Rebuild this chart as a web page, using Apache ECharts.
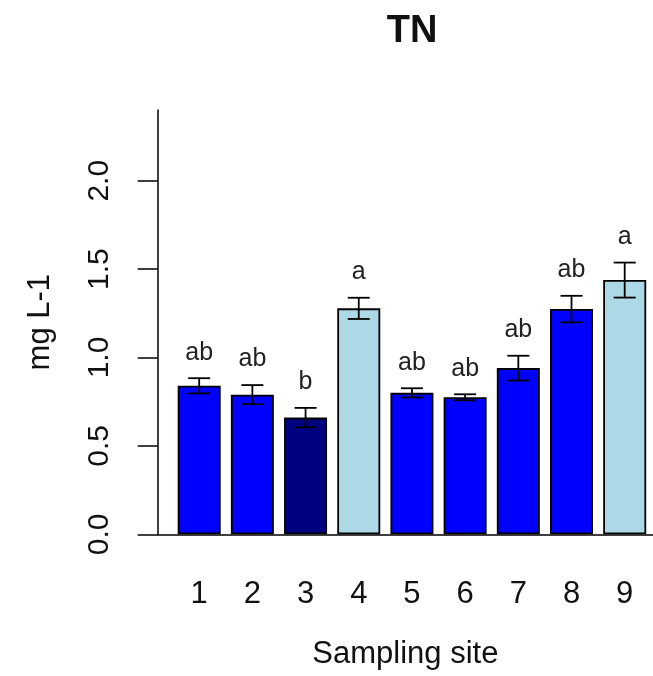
<!DOCTYPE html>
<html>
<head>
<meta charset="utf-8">
<script src="https://cdn.jsdelivr.net/npm/echarts@6/dist/echarts.min.js"></script>
<style>
html,body{margin:0;padding:0;background:#fff;}
#chart{width:653px;height:676px;}
</style>
</head>
<body>
<div id="chart"></div>
<script>
// ---- data ----
const sites = [1, 2, 3, 4, 5, 6, 7, 8, 9];
const meanTN = [0.84, 0.79, 0.66, 1.278, 0.80, 0.775, 0.94, 1.274, 1.438];
const seTN = [0.043, 0.054, 0.055, 0.06, 0.026, 0.017, 0.07, 0.075, 0.099];
const groupLetters = ['ab', 'ab', 'b', 'a', 'ab', 'ab', 'ab', 'ab', 'a'];
const yTicks = [0, 0.5, 1.0, 1.5, 2.0];

// ---- styles ----
const barColors = ['#0000FF', '#0000FF', '#000080', '#ADD8E6', '#0000FF', '#0000FF', '#0000FF', '#0000FF', '#ADD8E6'];
const FONT = '"Liberation Sans", Arial, Helvetica, sans-serif';
const INK = '#111';

const chart = echarts.init(document.getElementById('chart'), null, {renderer: 'canvas'});

const barData = sites.map((s, i) => ({
  value: [s, meanTN[i]],
  itemStyle: {color: barColors[i]}
}));
const errData = sites.map((s, i) => [s, meanTN[i] - seTN[i], meanTN[i] + seTN[i], i]);

chart.setOption({
  animation: false,
  backgroundColor: '#fff',
  title: {
    text: 'TN',
    left: 407, top: 8,
    textAlign: 'center',
    textStyle: {fontFamily: FONT, fontSize: 38, fontWeight: 'bold', color: INK}
  },
  grid: {left: 157.7, right: 0, top: 110, bottom: 141.7, containLabel: false},
  xAxis: {
    type: 'value',
    min: 0.22, max: 9.532,
    splitLine: {show: false},
    axisLine: {show: true, onZero: false, lineStyle: {color: '#000', width: 1.5}},
    axisTick: {show: false},
    axisLabel: {
      customValues: sites,
      fontFamily: FONT, fontSize: 31, color: INK, margin: 45,
      formatter: v => String(v)
    },
    name: 'Sampling site',
    nameLocation: 'middle',
    nameGap: 105,
    nameTextStyle: {fontFamily: FONT, fontSize: 31, color: INK}
  },
  yAxis: {
    type: 'value',
    min: 0, max: 2.4,
    splitLine: {show: false},
    axisLine: {show: true, lineStyle: {color: '#000', width: 1.5}},
    axisTick: {show: true, length: 20, customValues: yTicks, lineStyle: {color: '#000', width: 1.5}},
    axisLabel: {
      customValues: yTicks,
      rotate: 90,
      fontFamily: FONT, fontSize: 30, color: INK, margin: 43,
      formatter: v => v.toFixed(1)
    },
    name: 'mg L-1',
    nameLocation: 'middle',
    nameRotate: 90,
    nameGap: 102,
    nameTextStyle: {fontFamily: FONT, fontSize: 31, color: INK}
  },
  series: [
    {
      type: 'bar',
      data: barData,
      barWidth: 43,
      itemStyle: {borderColor: '#000', borderWidth: 1.8},
      z: 2
    },
    {
      type: 'custom',
      data: errData,
      z: 5,
      renderItem: function (params, api) {
        const x = api.value(0);
        const lo = api.coord([x, api.value(1)]);
        const hi = api.coord([x, api.value(2)]);
        const idx = api.value(3);
        const cap = 11;
        const ls = {stroke: '#000', lineWidth: 1.8};
        return {
          type: 'group',
          children: [
            {type: 'line', shape: {x1: lo[0], y1: lo[1], x2: hi[0], y2: hi[1]}, style: ls},
            {type: 'line', shape: {x1: hi[0] - cap, y1: hi[1], x2: hi[0] + cap, y2: hi[1]}, style: ls},
            {type: 'line', shape: {x1: lo[0] - cap, y1: lo[1], x2: lo[0] + cap, y2: lo[1]}, style: ls},
            {type: 'text', x: hi[0], y: hi[1] - 13,
              style: {text: groupLetters[idx], fontFamily: FONT, fontSize: 25, fill: '#222',
                      textAlign: 'center', textVerticalAlign: 'bottom'}}
          ]
        };
      }
    }
  ]
});
</script>
</body>
</html>
